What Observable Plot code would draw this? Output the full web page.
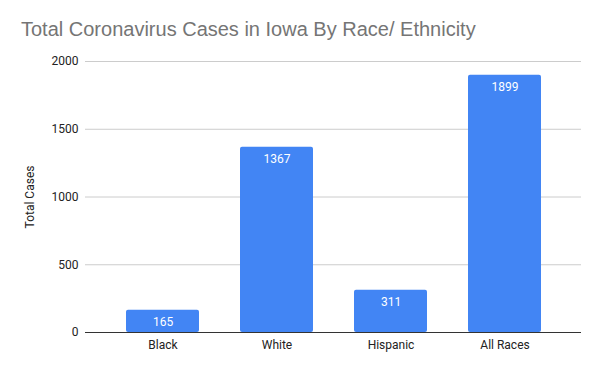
<!DOCTYPE html>
<html>
<head>
<meta charset="utf-8">
<script src="https://cdn.jsdelivr.net/npm/d3@7"></script>
<script src="https://cdn.jsdelivr.net/npm/@observablehq/plot@0.6"></script>
<style>
  html, body { margin: 0; padding: 0; background: #fff; }
  #wrap { width: 600px; height: 371px; position: relative; overflow: hidden; }
  #title { position: absolute; left: 21px; top: 19px; font-family: "Liberation Sans", Arial, sans-serif; font-size: 20px; color: #757575; white-space: nowrap; line-height: 1; }
  #chart { position: absolute; left: 0; top: 50px; }
</style>
</head>
<body>
<div id="wrap">
  <div id="title">Total Coronavirus Cases in Iowa By Race/ Ethnicity</div>
  <div id="chart"></div>
</div>
<script>
const categories = ["Black", "White", "Hispanic", "All Races"];
const totalCases = [165, 1367, 311, 1899];
const yTicks = [0, 500, 1000, 1500, 2000];
const yLabel = "Total Cases";

const data = categories.map((c, i) => ({category: c, value: totalCases[i]}));

const chart = Plot.plot({
  width: 600,
  height: 321,
  marginLeft: 85,
  marginRight: 19,
  marginTop: 11,
  marginBottom: 39,
  style: { fontFamily: "Roboto, 'Liberation Sans', sans-serif", fontSize: "12px", color: "#222", background: "#fff" },
  x: { domain: categories, paddingInner: 0.36, paddingOuter: 0.35, label: null },
  y: { domain: [0, 2000], ticks: yTicks, label: null, tickFormat: d3.format("d") },
  marks: [
    Plot.gridY(yTicks.filter(d => d !== 0), { stroke: "#cccccc", strokeOpacity: 1 }),
    Plot.axisY(yTicks, { tickSize: 0, tickPadding: 7, fill: "#222", label: null, tickFormat: d3.format("d") }),
    Plot.axisX({ tickSize: 0, tickPadding: 8, fill: "#222", label: null }),
    Plot.barY(data, { x: "category", y: "value", fill: "#4285f4", rx: 2 }),
    Plot.ruleY([0], { stroke: "#333", strokeWidth: 1.2 }),
    Plot.text(data, { x: "category", y: "value", text: d => String(d.value), fill: "#fff", dy: 12, fontSize: 12 }),
    Plot.text([yLabel], { frameAnchor: "left", dx: -55, rotate: -90, textAnchor: "middle", fill: "#222", fontSize: 12 })
  ]
});
document.getElementById("chart").appendChild(chart);
</script>
</body>
</html>
